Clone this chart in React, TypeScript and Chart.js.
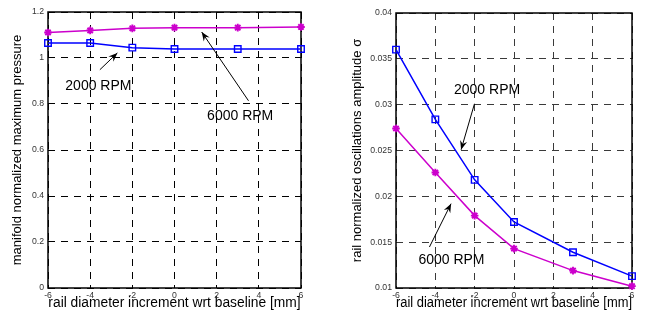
import React, { useEffect, useRef } from 'react';
import { Chart, registerables } from 'chart.js';

Chart.register(...registerables);

// ---- data ----
const xValues = [-6, -4, -2, 0, 3, 6];
const pressure2000 = [1.065, 1.065, 1.045, 1.039, 1.039, 1.039];
const pressure6000 = [1.111, 1.12, 1.129, 1.132, 1.132, 1.135];
const sigma2000 = [0.036, 0.0284, 0.0218, 0.0172, 0.0139, 0.0113];
const sigma6000 = [0.0274, 0.0226, 0.0179, 0.0143, 0.0119, 0.0102];

const xTickValues = [-6, -4, -2, 0, 2, 4, 6];
const xTickLabels = ['-6', '-4', '-2', '0', '2', '4', '6'];
const pressureTicks = [0, 0.2, 0.4, 0.6, 0.8, 1, 1.2];
const pressureTickLabels = ['0', '0.2', '0.4', '0.6', '0.8', '1', '1.2'];
const sigmaTicks = [0.01, 0.015, 0.02, 0.025, 0.03, 0.035, 0.04];
const sigmaTickLabels = ['0.01', '0.015', '0.02', '0.025', '0.03', '0.035', '0.04'];

const seriesNames = ['2000 RPM', '6000 RPM'];
const xTitle = 'rail diameter increment wrt baseline [mm]';
const pressureTitle = 'manifold normalized maximum pressure';
const sigmaTitle = 'rail normalized oscillations amplitude σ';

// annotations in data coordinates: text centre, arrow tail, arrow head
const pressureNotes = [
  { text: '2000 RPM', tx: -3.61, ty: 0.879, ax: -3.54, ay: 0.949, hx: -2.71, hy: 1.022 },
  { text: '6000 RPM', tx: 3.115, ty: 0.749, ax: 3.51, ay: 0.814, hx: 1.29, hy: 1.113 },
];
const sigmaNotes = [
  { text: '2000 RPM', tx: -1.37, ty: 0.03156, ax: -2.01, ay: 0.0301, hx: -2.69, hy: 0.02509 },
  { text: '6000 RPM', tx: -3.18, ty: 0.01309, ax: -4.3, ay: 0.01447, hx: -3.2, hy: 0.0192 },
];

const FONT = "'Liberation Sans', Arial, Helvetica, sans-serif";
const BLUE = '#0000ff';
const MAGENTA = '#cc00cc';

function drawArrow(ctx: CanvasRenderingContext2D, x1: number, y1: number, x2: number, y2: number) {
  ctx.beginPath();
  ctx.moveTo(x1, y1);
  ctx.lineTo(x2, y2);
  ctx.stroke();
  const a = Math.atan2(y2 - y1, x2 - x1);
  const L = 9;
  const W = 3.6;
  const c = Math.cos(a);
  const s = Math.sin(a);
  ctx.beginPath();
  ctx.moveTo(x2, y2);
  ctx.lineTo(x2 - L * c + W * s, y2 - L * s - W * c);
  ctx.lineTo(x2 - 0.65 * L * c, y2 - 0.65 * L * s);
  ctx.lineTo(x2 - L * c - W * s, y2 - L * s + W * c);
  ctx.closePath();
  ctx.fill();
}

function makePlugin(notes: any[]) {
  return {
    id: 'frameNotes',
    beforeDatasetsDraw(chart: any) {
      const { ctx, chartArea: a } = chart;
      ctx.save();
      ctx.strokeStyle = '#000';
      ctx.lineWidth = 1.5;
      ctx.setLineDash([]);
      ctx.strokeRect(a.left, a.top, a.right - a.left, a.bottom - a.top);
      ctx.restore();
    },
    afterDatasetsDraw(chart: any) {
      const { ctx, scales } = chart;
      const xs = scales.x;
      const ys = scales.y;
      ctx.save();
      ctx.strokeStyle = '#000';
      ctx.fillStyle = '#000';
      ctx.lineWidth = 1;
      ctx.setLineDash([]);
      ctx.font = `14px ${FONT}`;
      ctx.textAlign = 'center';
      ctx.textBaseline = 'middle';
      for (const n of notes) {
        ctx.fillText(n.text, xs.getPixelForValue(n.tx), ys.getPixelForValue(n.ty));
        drawArrow(
          ctx,
          xs.getPixelForValue(n.ax),
          ys.getPixelForValue(n.ay),
          xs.getPixelForValue(n.hx),
          ys.getPixelForValue(n.hy)
        );
      }
      ctx.restore();
    },
  };
}

interface Spec {
  s2000: number[];
  s6000: number[];
  yTicks: number[];
  yLabels: string[];
  yTitle: string;
  yWidth: number;
  yTitlePad: number;
  padTop: number;
  padRight: number;
  gridColor: string;
  notes: any[];
}

function makeConfig(p: Spec): any {
  const tickFont = { family: FONT, size: 8.7 };
  const titleFont = { family: FONT, size: 13 };
  const toPts = (ys: number[]) => xValues.map((x, i) => ({ x, y: ys[i] }));
  return {
    type: 'line',
    data: {
      datasets: [
        {
          label: seriesNames[0],
          data: toPts(p.s2000),
          borderColor: BLUE,
          backgroundColor: 'rgba(0,0,0,0)',
          borderWidth: 1.5,
          pointStyle: 'rect',
          pointRadius: 4.6,
          pointBorderWidth: 1.4,
          pointBorderColor: BLUE,
          pointBackgroundColor: 'rgba(0,0,0,0)',
          tension: 0,
          clip: false,
        },
        {
          label: seriesNames[1],
          data: toPts(p.s6000),
          borderColor: MAGENTA,
          backgroundColor: MAGENTA,
          borderWidth: 1.5,
          pointStyle: 'star',
          pointRadius: 3.8,
          pointBorderWidth: 1.9,
          pointBorderColor: MAGENTA,
          pointBackgroundColor: MAGENTA,
          tension: 0,
          clip: false,
        },
      ],
    },
    options: {
      animation: false,
      responsive: false,
      maintainAspectRatio: false,
      events: [],
      layout: { padding: { left: 0, top: p.padTop, right: p.padRight, bottom: 0 } },
      plugins: { legend: { display: false }, tooltip: { enabled: false } },
      scales: {
        x: {
          type: 'linear',
          min: xTickValues[0],
          max: xTickValues[xTickValues.length - 1],
          afterBuildTicks: (s: any) => {
            s.ticks = xTickValues.map((v) => ({ value: v }));
          },
          afterFit: (s: any) => {
            s.height = 32;
          },
          ticks: {
            autoSkip: false,
            maxRotation: 0,
            padding: 2,
            color: '#333',
            font: tickFont,
            callback: (_v: any, i: number) => xTickLabels[i],
          },
          grid: { color: p.gridColor, lineWidth: 1, drawTicks: false },
          border: { display: false, dash: [7, 6] },
          title: {
            display: true,
            text: xTitle,
            color: '#000',
            font: { family: FONT, size: 13.8 },
            padding: { top: 0, bottom: 9 },
          },
        },
        y: {
          type: 'linear',
          min: p.yTicks[0],
          max: p.yTicks[p.yTicks.length - 1],
          afterBuildTicks: (s: any) => {
            s.ticks = p.yTicks.map((v) => ({ value: v }));
          },
          afterFit: (s: any) => {
            s.width = p.yWidth;
          },
          ticks: {
            autoSkip: false,
            padding: 4,
            color: '#333',
            font: tickFont,
            callback: (_v: any, i: number) => p.yLabels[i],
          },
          grid: { color: p.gridColor, lineWidth: 1, drawTicks: false },
          border: { display: false, dash: [7, 6] },
          title: {
            display: true,
            text: p.yTitle,
            color: '#000',
            font: titleFont,
            padding: { top: p.yTitlePad, bottom: 0 },
          },
        },
      },
    },
    plugins: [makePlugin(p.notes)],
  };
}

function ChartBox({ spec, left }: { spec: Spec; left: number }) {
  const ref = useRef<HTMLCanvasElement | null>(null);
  useEffect(() => {
    if (!ref.current) return;
    const chart = new Chart(ref.current, makeConfig(spec));
    return () => chart.destroy();
  }, []);
  return (
    <canvas
      ref={ref}
      width={324}
      height={320}
      style={{ position: 'absolute', left, top: 0, width: 324, height: 320 }}
    />
  );
}

const leftSpec: Spec = {
  s2000: pressure2000,
  s6000: pressure6000,
  yTicks: pressureTicks,
  yLabels: pressureTickLabels,
  yTitle: pressureTitle,
  yWidth: 48,
  yTitlePad: 10,
  padTop: 12,
  padRight: 23,
  gridColor: '#000',
  notes: pressureNotes,
};

const rightSpec: Spec = {
  s2000: sigma2000,
  s6000: sigma6000,
  yTicks: sigmaTicks,
  yLabels: sigmaTickLabels,
  yTitle: sigmaTitle,
  yWidth: 72,
  yTitlePad: 26,
  padTop: 13,
  padRight: 16,
  gridColor: '#3a3a3a',
  notes: sigmaNotes,
};

export default function App() {
  return (
    <div
      style={{
        position: 'fixed',
        left: 0,
        top: 0,
        width: 648,
        height: 320,
        background: '#fff',
        overflow: 'hidden',
      }}
    >
      <ChartBox spec={leftSpec} left={0} />
      <ChartBox spec={rightSpec} left={324} />
    </div>
  );
}
